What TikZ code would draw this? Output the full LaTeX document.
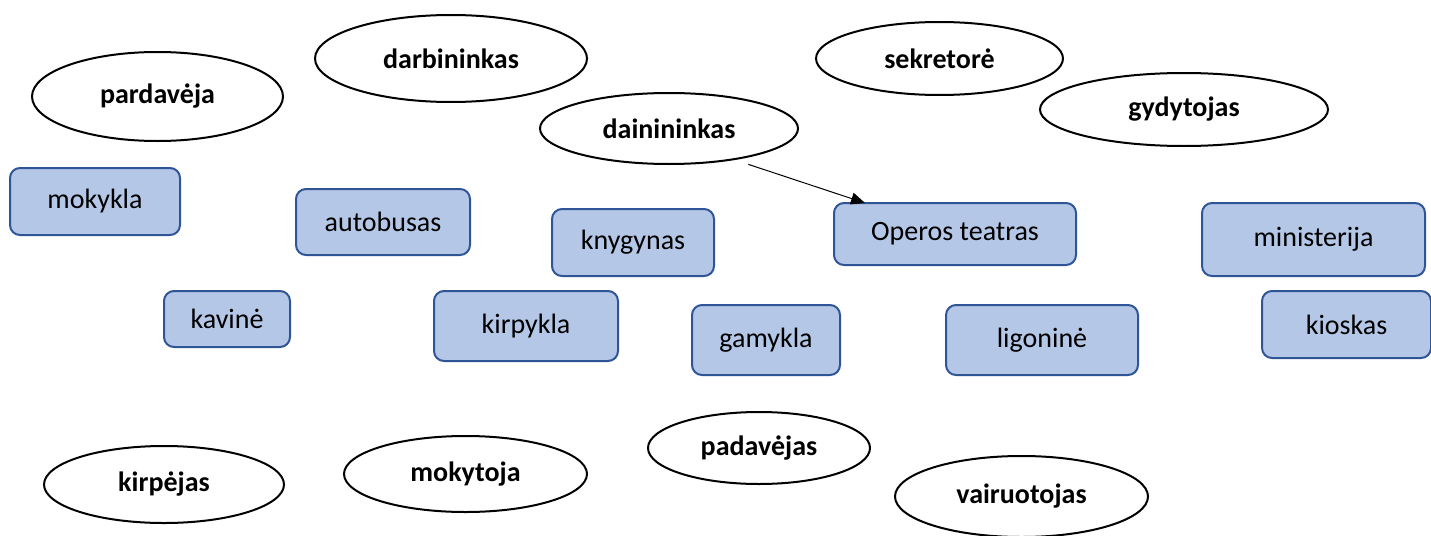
\documentclass[tikz,border=0pt]{standalone}
\usepackage{fontspec}
\setmainfont{Carlito}
\usetikzlibrary{shapes.geometric,arrows.meta,calc}
\definecolor{boxfill}{HTML}{B4C7E7}
\definecolor{boxline}{HTML}{2F5597}
\tikzset{
  job/.style={draw=black, line width=2pt, fill=white, ellipse, inner sep=0pt,
    font=\fontsize{28}{30}\selectfont\bfseries},
  place/.style={draw=boxline, line width=2pt, fill=boxfill, rectangle, rounded corners=10pt,
    inner sep=0pt, font=\fontsize{28}{30}\selectfont},
  link/.style={draw=black, line width=1pt, -{Triangle[length=14pt,width=12pt]}}
}
\newcommand{\jobnode}[6]{% name, x1, y1, x2, y2, text
  \node[job, minimum width={#4-#2}, minimum height={#5-#3}] (#1) at ({(#2+#4)/2},{(#3+#5)/2}) {#6};}
\newcommand{\placenode}[6]{%
  \node[place, minimum width={#4-#2}, minimum height={#5-#3}] (#1) at ({(#2+#4)/2},{(#3+#5)/2}) {#6};}
\begin{document}
\begin{tikzpicture}[x=1pt,y=-1pt]
\useasboundingbox (0,0) rectangle (1431,535);
\jobnode{pard}{32}{52}{283}{141}{pardavėja}
\jobnode{darb}{315}{15}{587}{102}{darbininkas}
\jobnode{dain}{540}{93}{798}{164}{dainininkas}
\jobnode{sekr}{816}{22}{1063}{95}{sekretorė}
\jobnode{gydy}{1040}{73}{1328}{146}{gydytojas}
\jobnode{kirj}{44}{446}{284}{523}{kirpėjas}
\jobnode{moky}{344}{436}{587}{512}{mokytoja}
\jobnode{pada}{648}{412}{870}{484}{padavėjas}
\jobnode{vair}{895}{456}{1148}{537}{vairuotojas}
\placenode{mokk}{10}{168}{180}{235}{mokykla}
\placenode{auto}{296}{189}{470}{255}{autobusas}
\placenode{knyg}{552}{209}{714}{276}{knygynas}
\placenode{oper}{834}{203}{1076}{265}{Operos teatras}
\placenode{mini}{1202}{203}{1425}{276}{ministerija}
\placenode{kavi}{164}{291}{290}{347}{kavinė}
\placenode{kirk}{434}{291}{618}{361}{kirpykla}
\placenode{gamy}{692}{305}{840}{375}{gamykla}
\placenode{ligo}{946}{305}{1138}{375}{ligoninė}
\placenode{kios}{1262}{291}{1431}{358}{kioskas}
\coordinate (aend) at ($(oper.north west)+(32,1)$);
\draw[link] ($(dain.-24)+(10,5)$) -- (aend);
\end{tikzpicture}
\end{document}
